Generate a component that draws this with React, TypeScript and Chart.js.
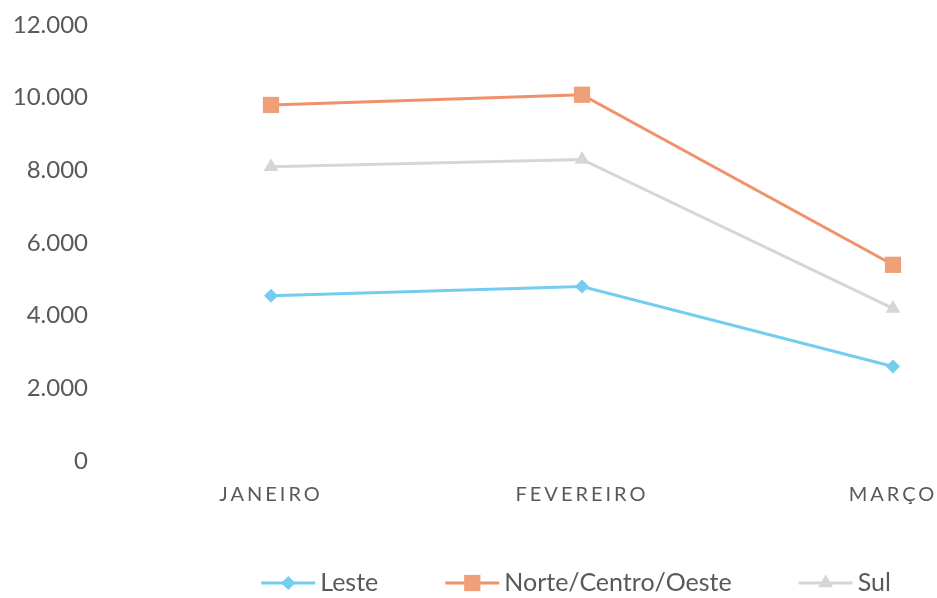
import React, { useEffect, useRef } from 'react';
import { Chart, registerables } from 'chart.js';

Chart.register(...registerables);

// ---- data ----
const categories = ['JANEIRO', 'FEVEREIRO', 'MARÇO'];
const seriesNames = ['Leste', 'Norte/Centro/Oeste', 'Sul'];
const lesteValues = [4550, 4800, 2600];
const norteValues = [9800, 10080, 5400];
const sulValues = [8100, 8300, 4200];
const yMin = 0;
const yMax = 12000;
const yStep = 2000;

const W = 937;
const H = 598;

const TEXT_COLOR = '#595959';
const FONT = 'Lato';

function fmt(v: number): string {
  return String(v).replace(/\B(?=(\d{3})+(?!\d))/g, '.');
}

function drawMarker(ctx: CanvasRenderingContext2D, style: string, x: number, y: number, r: number, color: string) {
  ctx.beginPath();
  if (style === 'rectRot') {
    ctx.moveTo(x - r, y);
    ctx.lineTo(x, y - r);
    ctx.lineTo(x + r, y);
    ctx.lineTo(x, y + r);
  } else if (style === 'rect') {
    const s = r * Math.SQRT1_2;
    ctx.rect(x - s, y - s, 2 * s, 2 * s);
  } else {
    const a = (2 * Math.PI) / 3;
    ctx.moveTo(x, y - r);
    ctx.lineTo(x + Math.sin(a) * r, y - Math.cos(a) * r);
    ctx.lineTo(x + Math.sin(2 * a) * r, y - Math.cos(2 * a) * r);
  }
  ctx.closePath();
  ctx.fillStyle = color;
  ctx.fill();
}

const xSpacingPlugin = {
  id: 'xLetterSpacing',
  beforeDraw(chart: any) {
    const s: any = chart.scales.x;
    if (s && !s.__patched) {
      const orig = s.drawLabels.bind(s);
      s.drawLabels = (area: any) => {
        const c: any = chart.ctx;
        c.save();
        c.letterSpacing = '3px';
        orig(area);
        c.restore();
      };
      s.__patched = true;
    }
  },
};

const legendPlugin = {
  id: 'lineLegend',
  afterDraw(chart: any) {
    const ctx: CanvasRenderingContext2D = chart.ctx;
    ctx.save();
    ctx.font = `25px ${FONT}`;
    const lineLen = 54;
    const gapText = 5;
    const gapItem = 67;
    const items = chart.data.datasets.map((ds: any) => ({ ds, w: ctx.measureText(ds.label).width }));
    const total =
      items.reduce((s: number, it: any) => s + lineLen + gapText + it.w, 0) + gapItem * (items.length - 1);
    const ca = chart.chartArea;
    let x = (ca.left + ca.right) / 2 - 6 - total / 2;
    const y = chart.height - 15;
    for (const it of items) {
      const ds = it.ds;
      ctx.strokeStyle = ds.borderColor;
      ctx.lineWidth = ds.borderWidth;
      ctx.beginPath();
      ctx.moveTo(x, y);
      ctx.lineTo(x + lineLen, y);
      ctx.stroke();
      drawMarker(ctx, ds.pointStyle, x + lineLen / 2, y, ds.pointRadius, ds.pointBackgroundColor);
      ctx.fillStyle = TEXT_COLOR;
      ctx.textAlign = 'left';
      ctx.textBaseline = 'middle';
      ctx.fillText(ds.label, x + lineLen + gapText, y);
      x += lineLen + gapText + it.w + gapItem;
    }
    ctx.restore();
  },
};

export default function App() {
  const ref = useRef<HTMLCanvasElement | null>(null);

  useEffect(() => {
    if (!ref.current) return;
    const chart = new Chart(ref.current, {
      type: 'line',
      data: {
        labels: categories,
        datasets: [
          {
            label: seriesNames[0],
            data: lesteValues,
            borderColor: '#74CDEF',
            backgroundColor: '#74CDEF',
            pointBackgroundColor: '#74CDEF',
            pointBorderColor: '#74CDEF',
            borderWidth: 3,
            pointStyle: 'rectRot',
            pointRadius: 7,
            pointBorderWidth: 0,
            tension: 0,
            clip: false,
          },
          {
            label: seriesNames[1],
            data: norteValues,
            borderColor: '#F0916A',
            backgroundColor: '#F0A078',
            pointBackgroundColor: '#F0A078',
            pointBorderColor: '#F0A078',
            borderWidth: 3,
            pointStyle: 'rect',
            pointRadius: 11.5,
            pointBorderWidth: 0,
            tension: 0,
            clip: false,
          },
          {
            label: seriesNames[2],
            data: sulValues,
            borderColor: '#D6D6D6',
            backgroundColor: '#D6D6D6',
            pointBackgroundColor: '#D6D6D6',
            pointBorderColor: '#D6D6D6',
            borderWidth: 3,
            pointStyle: 'triangle',
            pointRadius: 8.5,
            pointBorderWidth: 0,
            tension: 0,
            clip: false,
          },
        ],
      },
      options: {
        responsive: false,
        animation: false,
        layout: { padding: { top: 25, right: 44, bottom: 91, left: 0 } },
        plugins: {
          legend: { display: false },
          tooltip: { enabled: false },
          title: { display: false },
        },
        scales: {
          x: {
            type: 'category',
            offset: false,
            grid: { display: false, drawTicks: true, tickLength: 22 },
            border: { display: false },
            ticks: {
              font: { family: FONT, size: 20 },
              color: TEXT_COLOR,
              padding: 0,
              maxRotation: 0,
              autoSkip: false,
            },
            afterFit: (s: any) => {
              s.height = 46;
            },
          },
          y: {
            min: yMin,
            max: yMax,
            grid: { display: false, drawTicks: true, tickLength: 183 },
            border: { display: false },
            ticks: {
              stepSize: yStep,
              font: { family: FONT, size: 24 },
              color: TEXT_COLOR,
              padding: 0,
              callback: (v: any) => fmt(Number(v)),
            },
            afterFit: (s: any) => {
              s.width = 271;
            },
          },
        },
      },
      plugins: [xSpacingPlugin, legendPlugin],
    });
    return () => chart.destroy();
  }, []);

  return (
    <div style={{ position: 'absolute', left: 0, top: 0, width: W, height: H, background: '#fff' }}>
      <canvas ref={ref} width={W} height={H} style={{ display: 'block' }} />
    </div>
  );
}
